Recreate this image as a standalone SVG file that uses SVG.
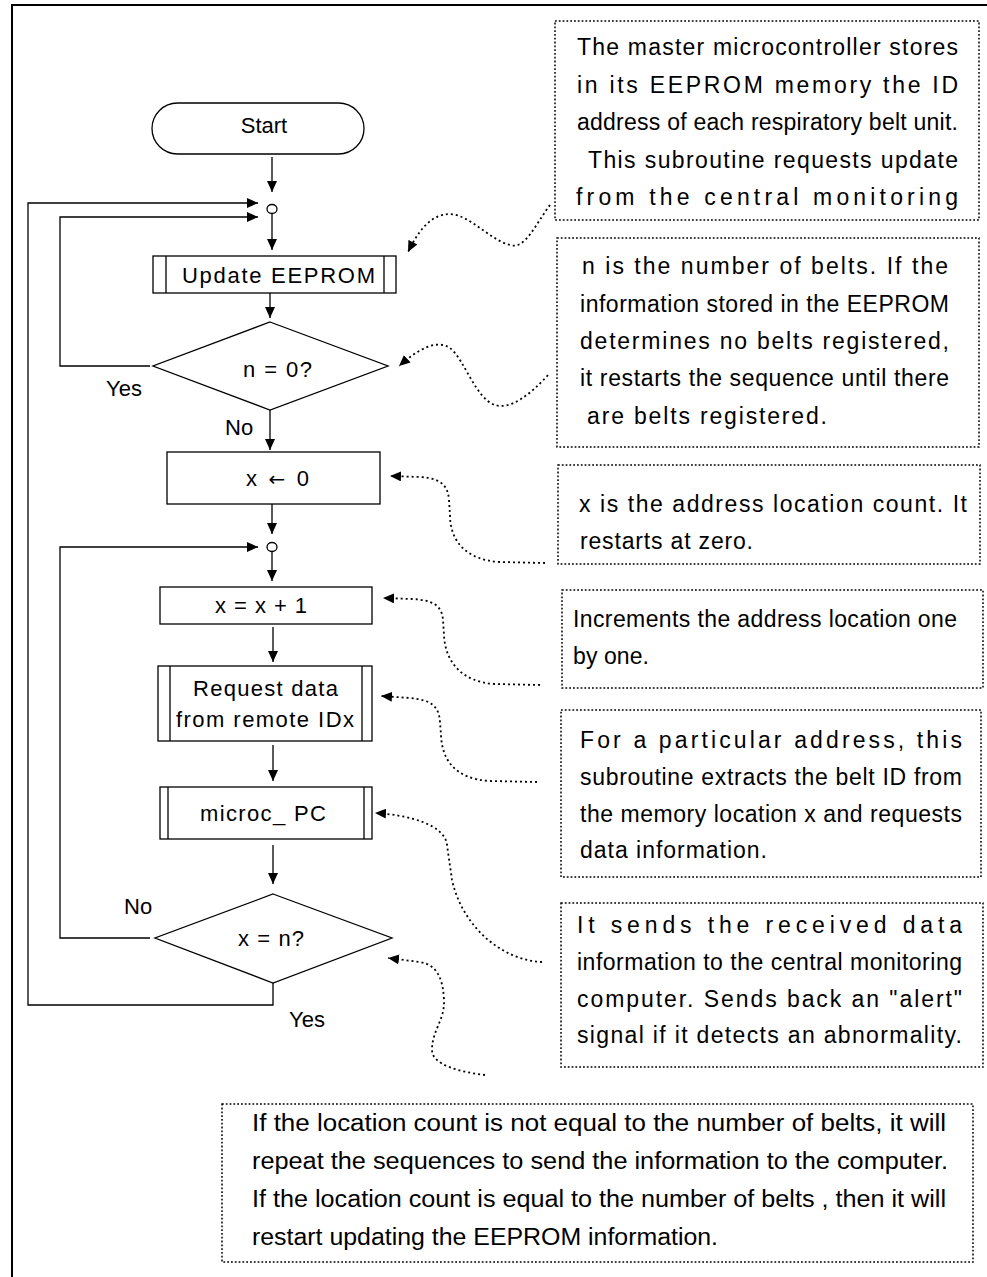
<svg xmlns="http://www.w3.org/2000/svg" width="987" height="1277" viewBox="0 0 987 1277">
<style>
.ln{fill:none;stroke:#000;stroke-width:1.3}
.nd{fill:#fff;stroke:#000;stroke-width:1.3}
.dot{fill:none;stroke:#000;stroke-width:1.8;stroke-dasharray:2 3}
.box{fill:none;stroke:#000;stroke-width:1.5;stroke-dasharray:1.8 2}
.t{font-family:"Liberation Sans",Arial,sans-serif;font-size:23px;fill:#000}
.f{font-family:"Liberation Sans",Arial,sans-serif;font-size:22px;fill:#000}
.m{text-anchor:middle}
</style>
<defs>
<marker id="ah" markerUnits="userSpaceOnUse" markerWidth="12" markerHeight="10" refX="11" refY="5" orient="auto"><path d="M0,0 L11,5 L0,10 z" fill="#000"/></marker>
<marker id="dh" markerUnits="userSpaceOnUse" markerWidth="12" markerHeight="10" refX="11" refY="5" orient="auto"><path d="M0,0 L11,5 L0,10 z" fill="#000"/></marker>
</defs>
<rect width="987" height="1277" fill="#fff"/>
<path d="M12,1277 L12,5 L987,5" fill="none" stroke="#000" stroke-width="2"/>

<g id="connectors">
<path class="ln" d="M272,157 L272,192" marker-end="url(#ah)"/>
<path class="ln" d="M272,214 L272,250" marker-end="url(#ah)"/>
<path class="ln" d="M270,293 L270,318" marker-end="url(#ah)"/>
<path class="ln" d="M270,410 L270,450" marker-end="url(#ah)"/>
<path class="ln" d="M272,504 L272,534" marker-end="url(#ah)"/>
<path class="ln" d="M272,552 L272,581" marker-end="url(#ah)"/>
<path class="ln" d="M273,627 L273,662" marker-end="url(#ah)"/>
<path class="ln" d="M273,745 L273,781" marker-end="url(#ah)"/>
<path class="ln" d="M273,845 L273,884" marker-end="url(#ah)"/>
<path class="ln" d="M150,366 L60,366 L60,217 L258,217" marker-end="url(#ah)"/>
<path class="ln" d="M150,938 L60,938 L60,547 L258,547" marker-end="url(#ah)"/>
<path class="ln" d="M273,983 L273,1005 L28,1005 L28,203 L258,203" marker-end="url(#ah)"/>
<path class="dot" d="M550,205 C535,225 525,250 510,245 C490,240 470,215 450,214 C430,214 418,232 408,252" marker-end="url(#dh)"/>
<path class="dot" d="M548,375 C530,395 510,410 495,405 C475,398 465,360 450,348 C435,338 415,352 399,366" marker-end="url(#dh)"/>
<path class="dot" d="M545,563 L500,562 C465,560 450,540 450,515 L449,500 C448,485 440,478 420,477 L390,476" marker-end="url(#dh)"/>
<path class="dot" d="M540,685 L495,684 C460,682 445,660 444,635 L443,620 C442,605 432,600 412,599 L383,598" marker-end="url(#dh)"/>
<path class="dot" d="M537,782 L490,781 C455,779 442,760 441,735 L440,722 C439,705 430,700 410,698 L381,696" marker-end="url(#dh)"/>
<path class="dot" d="M542,962 C500,960 462,925 452,880 L447,845 C445,825 410,815 375,813" marker-end="url(#dh)"/>
<path class="dot" d="M485,1075 C460,1072 432,1065 432,1050 C432,1030 445,1020 444,1000 C443,980 438,965 420,962 L388,958" marker-end="url(#dh)"/>
</g>

<g id="start">
<rect class="nd" x="152" y="103" width="212" height="51" rx="25.5" stroke-width="1"/>
<text class="f m" x="264" y="133">Start</text>
</g>
<g id="join1"><ellipse class="nd" cx="272" cy="209" rx="5" ry="4.5" stroke-width="1"/></g>
<g id="update">
<rect class="nd" x="153" y="256" width="243" height="37"/>
<path class="ln" d="M166,256 V293 M384,256 V293"/>
<text class="f" x="182" y="283" textLength="193" lengthAdjust="spacing">Update EEPROM</text>
</g>
<g id="dec1">
<path class="nd" d="M270,322 L388,366 L270,410 L153,366 Z" stroke-width="1"/>
<text class="f" x="243" y="377" textLength="69" lengthAdjust="spacing">n = 0?</text>
<text class="f" x="106" y="396">Yes</text>
<text class="f" x="225" y="435">No</text>
</g>
<g id="init">
<rect class="nd" x="167" y="452" width="213" height="52"/>
<text class="f" x="246" y="486" textLength="63" lengthAdjust="spacing">x <tspan font-family="DejaVu Sans" font-size="20">←</tspan> 0</text>
</g>
<g id="join2"><ellipse class="nd" cx="272" cy="547" rx="5" ry="4.5" stroke-width="1"/></g>
<g id="inc">
<rect class="nd" x="160" y="587" width="212" height="37"/>
<text class="f" x="215" y="613" textLength="92" lengthAdjust="spacing">x = x + 1</text>
</g>
<g id="request">
<rect class="nd" x="158" y="666" width="214" height="75"/>
<path class="ln" d="M170,666 V741 M362,666 V741"/>
<text class="f" x="193" y="696" textLength="145" lengthAdjust="spacing">Request data</text>
<text class="f" x="176" y="727" textLength="178" lengthAdjust="spacing">from remote IDx</text>
</g>
<g id="microc">
<rect class="nd" x="160" y="787" width="212" height="52"/>
<path class="ln" d="M168,787 V839 M364,787 V839"/>
<text class="f" x="200" y="821" textLength="126" lengthAdjust="spacing">microc_ PC</text>
</g>
<g id="dec2">
<path class="nd" d="M273,894 L392,938 L273,983 L155,938 Z" stroke-width="1"/>
<text class="f" x="238" y="946" textLength="66" lengthAdjust="spacing">x = n?</text>
<text class="f" x="124" y="914">No</text>
<text class="f" x="289" y="1027">Yes</text>
</g>

<g id="note1">
<rect class="box" x="555" y="21" width="424" height="199"/>
<text class="t" x="577" y="55" textLength="381" lengthAdjust="spacing">The master microcontroller stores</text>
<text class="t" x="577" y="93" textLength="381" lengthAdjust="spacing">in its EEPROM memory the ID</text>
<text class="t" x="577" y="130" textLength="381" lengthAdjust="spacing">address of each respiratory belt unit.</text>
<text class="t" x="588" y="168" textLength="370" lengthAdjust="spacing">This subroutine requests update</text>
<text class="t" x="576" y="205" textLength="382" lengthAdjust="spacing">from the central monitoring</text>
</g>
<g id="note2">
<rect class="box" x="557" y="238" width="422" height="209"/>
<text class="t" x="582" y="274" textLength="366" lengthAdjust="spacing">n is the number of belts. If the</text>
<text class="t" x="580" y="312" textLength="369" lengthAdjust="spacing">information stored in the EEPROM</text>
<text class="t" x="580" y="349" textLength="369" lengthAdjust="spacing">determines no belts registered,</text>
<text class="t" x="580" y="386" textLength="369" lengthAdjust="spacing">it restarts the sequence until there</text>
<text class="t" x="587" y="424" textLength="240" lengthAdjust="spacing">are belts registered.</text>
</g>
<g id="note3">
<rect class="box" x="558" y="465" width="422" height="99"/>
<text class="t" x="579" y="512" textLength="388" lengthAdjust="spacing">x is the address location count. It</text>
<text class="t" x="580" y="549" textLength="173" lengthAdjust="spacing">restarts at zero.</text>
</g>
<g id="note4">
<rect class="box" x="562" y="590" width="421" height="98"/>
<text class="t" x="573" y="627" textLength="384" lengthAdjust="spacing">Increments the address location one</text>
<text class="t" x="573" y="664" textLength="76" lengthAdjust="spacing">by one.</text>
</g>
<g id="note5">
<rect class="box" x="561" y="710" width="420" height="167"/>
<text class="t" x="580" y="748" textLength="382" lengthAdjust="spacing">For a particular address, this</text>
<text class="t" x="580" y="785" textLength="382" lengthAdjust="spacing">subroutine extracts the belt ID from</text>
<text class="t" x="580" y="822" textLength="382" lengthAdjust="spacing">the memory location x and requests</text>
<text class="t" x="580" y="858" textLength="187" lengthAdjust="spacing">data information.</text>
</g>
<g id="note6">
<rect class="box" x="561" y="903" width="422" height="164"/>
<text class="t" x="577" y="933" textLength="385" lengthAdjust="spacing">It sends the received data</text>
<text class="t" x="577" y="970" textLength="385" lengthAdjust="spacing">information to the central monitoring</text>
<text class="t" x="577" y="1007" textLength="385" lengthAdjust="spacing">computer. Sends back an "alert"</text>
<text class="t" x="577" y="1043" textLength="385" lengthAdjust="spacing">signal if it detects an abnormality.</text>
</g>
<g id="note7">
<rect class="box" x="222" y="1104" width="751" height="158"/>
<text class="t" x="252" y="1131" textLength="694" lengthAdjust="spacingAndGlyphs">If the location count is not equal to the number of belts, it will</text>
<text class="t" x="252" y="1169" textLength="696" lengthAdjust="spacingAndGlyphs">repeat the sequences to send the information to the computer.</text>
<text class="t" x="252" y="1207" textLength="694" lengthAdjust="spacingAndGlyphs">If the location count is equal to the number of belts , then it will</text>
<text class="t" x="252" y="1245" textLength="466" lengthAdjust="spacingAndGlyphs">restart updating the EEPROM information.</text>
</g>
</svg>
